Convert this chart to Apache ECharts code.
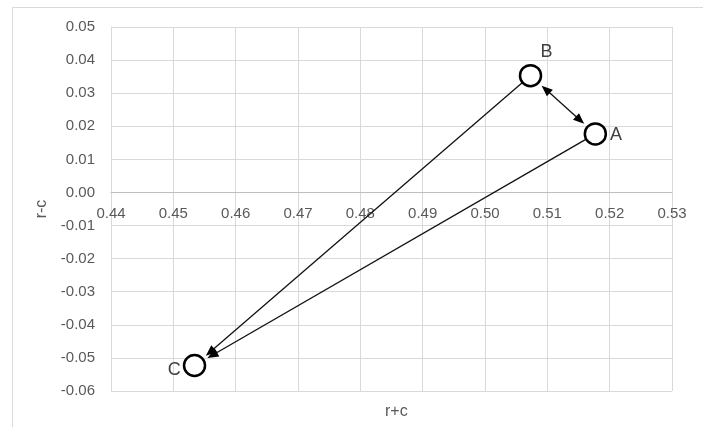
<!DOCTYPE html>
<html>
<head>
<meta charset="utf-8">
<script src="https://cdn.jsdelivr.net/npm/echarts@6/dist/echarts.min.js"></script>
<style>
html,body{margin:0;padding:0;background:#fff;}
#chart{width:703px;height:427px;}
</style>
</head>
<body>
<div id="chart"></div>
<script>
// ---- data ----
const pointNames = ['A', 'B', 'C'];
const rPlusC  = [0.5177, 0.5073, 0.4534];
const rMinusC = [0.0177, 0.0353, -0.0523];

const arrowFrom = ['A', 'B', 'A'];
const arrowTo   = ['B', 'C', 'C'];
const arrowBothEnds = [true, false, false];

const xTicks = [0.44, 0.45, 0.46, 0.47, 0.48, 0.49, 0.50, 0.51, 0.52, 0.53];
const yTicks = [-0.06, -0.05, -0.04, -0.03, -0.02, -0.01, 0.00, 0.01, 0.02, 0.03, 0.04, 0.05];

const xName = 'r+c';
const yName = 'r-c';

// ---- build ----
const pointData = pointNames.map((n, i) => ({ name: n, value: [rPlusC[i], rMinusC[i]] }));
const idx = n => pointNames.indexOf(n);
const edgeData = arrowFrom.map((f, i) => {
  const a = idx(f), b = idx(arrowTo[i]);
  return [rPlusC[a], rMinusC[a], rPlusC[b], rMinusC[b], arrowBothEnds[i] ? 1 : 0];
});

const labelPos = {
  A: { position: 'right', distance: 3, offset: [0, 1] },
  B: { position: 'top', distance: 3, offset: [16, 0] },
  C: { position: 'left', distance: 2, offset: [0, 5] }
};
pointData.forEach(d => { d.label = Object.assign({ show: true, formatter: '{b}' }, labelPos[d.name]); });

const FONT = 'Liberation Sans';
const R_MARK = 11, GAP_HEAD = 15, HEAD_LEN = 11, HEAD_W = 4.5;

function arrowHead(tip, ux, uy) {
  const bx = tip[0] - ux * HEAD_LEN, by = tip[1] - uy * HEAD_LEN;
  return {
    type: 'polygon',
    shape: { points: [tip, [bx - uy * HEAD_W, by + ux * HEAD_W], [bx + uy * HEAD_W, by - ux * HEAD_W]] },
    style: { fill: '#000' }
  };
}

const GRID = { left: 111, top: 27, right: 31, bottom: 36 };

const chart = echarts.init(document.getElementById('chart'), null, { renderer: 'canvas' });
const step = v => +(v[1] - v[0]).toFixed(6);

chart.setOption({
  animation: false,
  backgroundColor: '#fff',
  textStyle: { fontFamily: FONT },
  title: {
    text: xName, left: 380, top: 399,
    textStyle: { color: '#595959', fontSize: 16, fontWeight: 'normal', fontFamily: FONT }
  },
  graphic: [{
    type: 'rect', left: 10, top: 5, z: -10,
    shape: { width: 720, height: 440 },
    style: { fill: 'none', stroke: '#d9d9d9', lineWidth: 1 }
  }],
  grid: Object.assign({ containLabel: false }, GRID),
  xAxis: {
    type: 'value',
    min: xTicks[0], max: xTicks[xTicks.length - 1], interval: step(xTicks),
    offset: 0,
    axisLine: { show: true, onZero: false, lineStyle: { color: '#bfbfbf', width: 1 } },
    axisTick: { show: false },
    axisLabel: { color: '#595959', fontSize: 15, margin: 14, fontFamily: FONT,
      showMinLabel: true, showMaxLabel: true, hideOverlap: false,
      formatter: v => v.toFixed(2) },
    splitLine: { show: true, lineStyle: { color: '#d9d9d9', width: 1 } }
  },
  yAxis: {
    type: 'value',
    min: yTicks[0], max: yTicks[yTicks.length - 1], interval: step(yTicks),
    axisLine: { show: true, onZero: false, lineStyle: { color: '#d9d9d9', width: 1 } },
    axisTick: { show: false },
    axisLabel: { color: '#595959', fontSize: 15, margin: 16, fontFamily: FONT,
      showMinLabel: true, showMaxLabel: true,
      formatter: v => v.toFixed(2) },
    splitLine: { show: true, lineStyle: { color: '#d9d9d9', width: 1 } },
    name: yName, nameLocation: 'middle', nameGap: 61, nameRotate: 90,
    nameTextStyle: { color: '#595959', fontSize: 16, fontFamily: FONT }
  },
  series: [{
    type: 'custom',
    coordinateSystem: 'cartesian2d',
    z: 1,
    silent: true,
    clip: false,
    encode: { x: [0, 2], y: [1, 3] },
    data: edgeData,
    renderItem: function (params, api) {
      const p1 = api.coord([api.value(0), api.value(1)]);
      const p2 = api.coord([api.value(2), api.value(3)]);
      const both = api.value(4) === 1;
      const dx = p2[0] - p1[0], dy = p2[1] - p1[1];
      const len = Math.sqrt(dx * dx + dy * dy);
      const ux = dx / len, uy = dy / len;
      const startOff = both ? GAP_HEAD : R_MARK;
      const s = [p1[0] + ux * startOff, p1[1] + uy * startOff];
      const e = [p2[0] - ux * GAP_HEAD, p2[1] - uy * GAP_HEAD];
      const children = [{
        type: 'line',
        shape: { x1: s[0] + (both ? ux * 4 : 0), y1: s[1] + (both ? uy * 4 : 0), x2: e[0] - ux * 4, y2: e[1] - uy * 4 },
        style: { stroke: '#111', lineWidth: 1.3 }
      }, arrowHead(e, ux, uy)];
      if (both) children.push(arrowHead(s, -ux, -uy));
      return { type: 'group', children: children };
    }
  }, {
    type: 'scatter',
    z: 3,
    symbol: 'circle',
    symbolSize: 21,
    itemStyle: { color: '#fff', borderColor: '#000', borderWidth: 2.5, opacity: 1 },
    label: { color: '#404040', fontSize: 18, fontFamily: FONT },
    data: pointData
  }]
});

// Move the x axis (line + labels) to cross the y axis at 0, as in the reference.
const zeroY = chart.convertToPixel({ yAxisIndex: 0 }, 0);
const bottomY = chart.convertToPixel({ yAxisIndex: 0 }, yTicks[0]);
chart.setOption({ xAxis: { offset: -(bottomY - zeroY) } });
</script>
</body>
</html>
